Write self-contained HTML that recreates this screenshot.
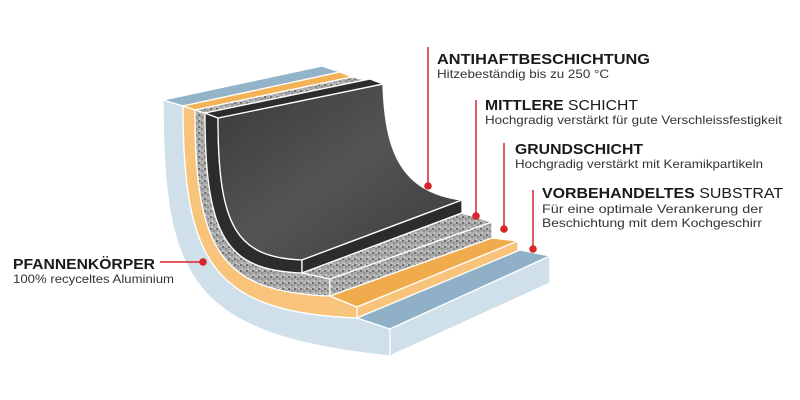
<!DOCTYPE html>
<html><head><meta charset="utf-8"><style>
html,body{margin:0;padding:0;background:#fff;width:800px;height:400px;overflow:hidden}
svg{display:block}
text{font-family:"Liberation Sans",sans-serif;fill:#1a1a1a}
.h{font-weight:bold;font-size:15px}
.s{font-size:12px;fill:#333}
</style></head><body>
<svg width="800" height="400" viewBox="0 0 800 400" xmlns="http://www.w3.org/2000/svg">
<defs>
<pattern id="sp" width="6" height="6" patternUnits="userSpaceOnUse">
<rect width="6" height="6" fill="#a9a9a9"/>
<circle cx="1" cy="1" r="1" fill="#5e5e5e"/><circle cx="4" cy="3" r="0.9" fill="#7a7a7a"/>
<circle cx="2" cy="5" r="0.8" fill="#e6e6e6"/><circle cx="5" cy="0.5" r="0.7" fill="#d8d8d8"/>
</pattern>
<linearGradient id="bg" x1="0" y1="0" x2="1" y2="1">
<stop offset="0" stop-color="#3a3a3a"/><stop offset="0.5" stop-color="#545454"/><stop offset="1" stop-color="#3c3c3c"/>
</linearGradient>
</defs>
<g stroke="#fff" stroke-width="1.3" stroke-linejoin="round">
<path d="M163,100 C163,280 190,335 390,356 L390,329 L357,318 C215,312 183,265 183,106 Z" fill="#cfe0ea"/>
<path d="M183,106 C183,265 215,312 357,318 L357,307 L330,296 C220,292 195,250 195,110 Z" fill="#f8c47c"/>
<path d="M195,110 C195,250 220,292 330,296 L330,279 L302,273 C228,270 205,240 205,113 Z" fill="url(#sp)"/>
<path d="M205,113 C205,240 228,270 302,273 L302,260 C238,257 218,230 218,118 Z" fill="#2c2c2c"/>
<path d="M218,118 C218,230 238,257 302,260 L462,200 C400,192 385,150 383,84 Z" fill="url(#bg)"/>
<path d="M163,100 L183,106 L340,72 L322,66 Z" fill="#93b3c8"/>
<path d="M183,106 L195,110 L352,77 L340,72 Z" fill="#f2b357"/>
<path d="M195,110 L205,113 L365,80 L352,77 Z" fill="url(#sp)"/>
<path d="M205,113 L218,118 L383,84 L370,79 Z" fill="#2c2c2c"/>
<path d="M302,260 L302,273 L462,213 L462,200 Z" fill="#2c2c2c"/>
<path d="M302,273 L330,279 L492,222 L462,213 Z" fill="url(#sp)"/>
<path d="M330,279 L330,296 L492,238 L492,222 Z" fill="url(#sp)"/>
<path d="M330,296 L357,307 L518,241 L492,238 Z" fill="#f0ac4c"/>
<path d="M357,307 L357,318 L518,252 L518,241 Z" fill="#f8c47c"/>
<path d="M357,318 L390,329 L550,256 L520,250 Z" fill="#8fb0c6"/>
<path d="M390,329 L390,356 L550,283 L550,256 Z" fill="#cfe0ea"/>
</g>
<g stroke="#d7262e" stroke-width="1.5" fill="none">
<line x1="428" y1="47" x2="428" y2="186"/>
<line x1="476" y1="100" x2="476" y2="216"/>
<line x1="504" y1="143" x2="504" y2="229"/>
<line x1="533" y1="190" x2="533" y2="249"/>
<line x1="160" y1="262" x2="203" y2="262"/>
</g>
<g fill="#d7262e">
<circle cx="428" cy="186" r="3.8"/><circle cx="476" cy="216" r="3.8"/>
<circle cx="504" cy="229" r="3.8"/><circle cx="533" cy="249" r="3.8"/>
<circle cx="203" cy="262" r="3.8"/>
</g>
<text class="h" x="437" y="64" textLength="213" lengthAdjust="spacingAndGlyphs">ANTIHAFTBESCHICHTUNG</text>
<text class="s" x="437" y="78" textLength="172" lengthAdjust="spacingAndGlyphs">Hitzebeständig bis zu 250 °C</text>
<text class="h" x="485" y="110" textLength="153" lengthAdjust="spacingAndGlyphs">MITTLERE <tspan font-weight="normal">SCHICHT</tspan></text>
<text class="s" x="485" y="124" textLength="297" lengthAdjust="spacingAndGlyphs">Hochgradig verstärkt für gute Verschleissfestigkeit</text>
<text class="h" x="515" y="154" textLength="128" lengthAdjust="spacingAndGlyphs">GRUNDSCHICHT</text>
<text class="s" x="515" y="168" textLength="248" lengthAdjust="spacingAndGlyphs">Hochgradig verstärkt mit Keramikpartikeln</text>
<text class="h" x="542" y="198" textLength="241" lengthAdjust="spacingAndGlyphs">VORBEHANDELTES <tspan font-weight="normal">SUBSTRAT</tspan></text>
<text class="s" x="542" y="213" textLength="221" lengthAdjust="spacingAndGlyphs">Für eine optimale Verankerung der</text>
<text class="s" x="542" y="227" textLength="220" lengthAdjust="spacingAndGlyphs">Beschichtung mit dem Kochgeschirr</text>
<text class="h" x="13" y="269" textLength="142" lengthAdjust="spacingAndGlyphs">PFANNENKÖRPER</text>
<text class="s" x="13" y="283" textLength="161" lengthAdjust="spacingAndGlyphs">100% recyceltes Aluminium</text>
</svg>
</body></html>
